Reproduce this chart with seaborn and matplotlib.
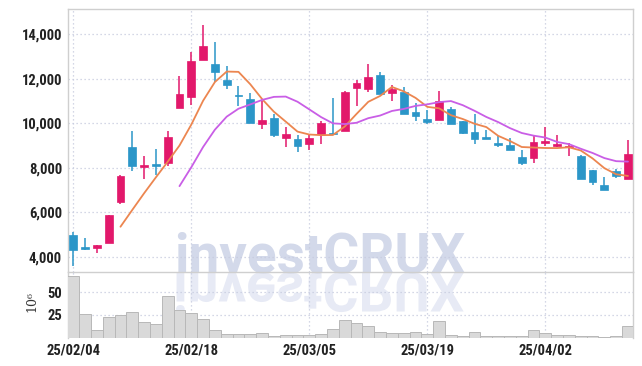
import numpy as np
import pandas as pd
import matplotlib
matplotlib.use("Agg")
import matplotlib.pyplot as plt
import seaborn as sns
from matplotlib import font_manager as fm
from matplotlib.textpath import TextPath
from matplotlib.patches import PathPatch
from matplotlib.transforms import Affine2D
from matplotlib.ticker import FuncFormatter

# ---------------- data ----------------
dates = ["2025-02-04", "2025-02-05", "2025-02-06", "2025-02-07", "2025-02-10",
         "2025-02-11", "2025-02-12", "2025-02-13", "2025-02-14", "2025-02-17",
         "2025-02-18", "2025-02-19", "2025-02-20", "2025-02-21", "2025-02-24",
         "2025-02-25", "2025-02-26", "2025-02-27", "2025-02-28", "2025-03-04",
         "2025-03-05", "2025-03-06", "2025-03-07", "2025-03-10", "2025-03-11",
         "2025-03-12", "2025-03-13", "2025-03-14", "2025-03-17", "2025-03-18",
         "2025-03-19", "2025-03-20", "2025-03-21", "2025-03-24", "2025-03-25",
         "2025-03-26", "2025-03-27", "2025-03-28", "2025-03-31", "2025-04-01",
         "2025-04-02", "2025-04-03", "2025-04-04", "2025-04-07", "2025-04-08",
         "2025-04-09", "2025-04-10", "2025-04-11"]
opens = [4975, 4400, 4375, 4630, 6445, 8935, 8080, 8140, 8230, 10700,
         11195, 12845, 12665, 11946, 11260, 11091, 9982, 10237, 9352, 9292,
         9082, 9517, 9577, 9667, 11601, 11556, 12171, 11347, 11407, 10507,
         10192, 10162, 10642, 10117, 9607, 9382, 9127, 9037, 8498, 8423,
         9112, 8995, 8918, 8528, 7898, 7223, 7838, 7493]
highs = [5125, 4825, 4540, 5890, 7660, 9640, 8530, 8830, 9640, 12110,
         13220, 14405, 13640, 12590, 11690, 11347, 11017, 10402, 9847, 9457,
         9470, 10117, 11122, 11452, 11946, 12665, 12291, 11721, 11646, 10927,
         10597, 11452, 10717, 10117, 10402, 9697, 9427, 9322, 8783, 9487,
         9847, 9457, 9127, 8558, 7898, 7568, 7958, 9232]
lows = [3595, 4300, 4150, 4600, 6370, 7840, 7480, 7675, 8095, 10670,
        10805, 12845, 11870, 11527, 10777, 10000, 9727, 9397, 8918, 8708,
        8783, 9067, 9472, 9667, 10777, 11422, 11331, 11002, 10432, 10117,
        9952, 10162, 9982, 9502, 9067, 9307, 8918, 8813, 8138, 8198,
        8978, 8948, 8528, 7508, 7208, 7013, 7523, 7493]
closes = [4315, 4370, 4525, 5875, 7645, 8095, 8110, 8110, 9380, 11300,
          12800, 13475, 12320, 11736, 11230, 10012, 10147, 9472, 9517, 8978,
          9352, 10012, 9502, 11422, 11811, 12081, 11331, 11526, 10432, 10342,
          10057, 11002, 9982, 9577, 9277, 9307, 9037, 8813, 8228, 9157,
          9202, 9020, 8992, 7508, 7373, 7013, 7643, 8618]
volumes = [67.5, 25.7, 7.9, 22.3, 24.5, 27.9, 16.6, 14.3, 46.0, 30.2,
           26.8, 20.0, 8.7, 4.2, 4.2, 4.2, 5.3, 1.9, 3.0, 3.0,
           3.0, 4.2, 9.1, 18.9, 15.8, 12.1, 5.7, 4.5, 4.5, 5.7,
           3.4, 17.7, 3.0, 1.5, 5.7, 1.9, 1.9, 1.9, 1.9, 7.9,
           4.5, 2.3, 2.3, 1.9, 1.9, 0.8, 1.9, 12.1]
tick_dates = ["2025-02-04", "2025-02-18", "2025-03-05", "2025-03-19", "2025-04-02"]
tick_labels = ["25/02/04", "25/02/18", "25/03/05", "25/03/19", "25/04/02"]
price_ticks = [4000, 6000, 8000, 10000, 12000, 14000]
volume_ticks = [25, 50]
watermark = "investCRUX"

df = pd.DataFrame({"date": dates, "open": opens, "high": highs,
                   "low": lows, "close": closes, "volume": volumes})
df["idx"] = np.arange(len(df))
df["ma5"] = df["close"].rolling(5).mean()
df["ma10"] = df["close"].rolling(10).mean()
tick_pos = [dates.index(d) for d in tick_dates]

# ---------------- style ----------------
sns.set_theme(style="white")


def pick(names):
    for n in names:
        try:
            fm.findfont(fm.FontProperties(family=n), fallback_to_default=False)
            return n
        except Exception:
            pass
    return "DejaVu Sans"


narrow = pick(["Liberation Sans Narrow", "Roboto Condensed", "DejaVu Sans"])
regular = pick(["Liberation Sans", "DejaVu Sans"])
plt.rcParams["font.family"] = [regular, "DejaVu Sans"]

UP = "#e2186b"
DOWN = "#2b96c8"
GRID = "#c6cbdf"
SPINE = "#cfcfcf"

W, H = 642, 366
fig = plt.figure(figsize=(W / 100, H / 100), dpi=100)
fig.patch.set_facecolor("white")
L, R = 68.3 / W, 632.7 / W
ax = fig.add_axes([L, 1 - 272 / H, R - L, (272 - 9) / H])
axv = fig.add_axes([L, 1 - 337.5 / H, R - L, (337.5 - 272) / H], sharex=ax)
for a in (ax, axv):
    a.set_facecolor("none")

# ---------------- watermark ----------------
wm_family = pick(["Roboto", "DejaVu Sans"])
wm_size = 39.5
wm_fp = fm.FontProperties(family=wm_family, weight="bold", size=wm_size)
fig.text(320 / W, 1 - 272.5 / H, watermark, fontproperties=wm_fp,
         color="#d3d9ea", ha="center", va="baseline", zorder=-2)
tp = TextPath((0, 0), watermark, size=wm_size * 100 / 72,
              prop=fm.FontProperties(family=wm_family, weight="bold"))
bb = tp.get_extents()
tx = 320 - (bb.x0 + bb.x1) / 2
refl = PathPatch(tp, facecolor="#e7eaf5", edgecolor="none", zorder=-2,
                 transform=Affine2D().scale(1, -1).translate(tx, H - 272.5))
fig.add_artist(refl)

# ---------------- candles ----------------
up = df["close"] >= df["open"]
colors = np.where(up, UP, DOWN)
ax.vlines(df["idx"], df["low"], df["high"], colors=colors, lw=1.1, zorder=3)
body_lo = np.minimum(df["open"], df["close"]).astype(float)
body_h = (df["close"] - df["open"]).abs().astype(float)
min_h = 80.0
pad = np.clip(min_h - body_h, 0, None) / 2
ax.bar(df["idx"], np.maximum(body_h, min_h), bottom=body_lo - pad,
       width=0.66, color=colors, edgecolor=colors, lw=0.5, zorder=4)

sns.lineplot(data=df, x="idx", y="ma5", ax=ax, color="#ec8650", lw=1.3,
             zorder=5, legend=False)
sns.lineplot(data=df, x="idx", y="ma10", ax=ax, color="#c95ee6", lw=1.3,
             zorder=5, legend=False)

# ---------------- volume ----------------
axv.bar(df["idx"], df["volume"], width=1.0, color="#d9d9d9",
        edgecolor="#b8b8b8", lw=0.7, zorder=3)

# ---------------- axes ----------------
ax.set_xlim(-0.42, 47.4)
ax.set_ylim(3310, 15140)
axv.set_ylim(0, 72)

ax.set_yticks(price_ticks)
ax.yaxis.set_major_formatter(FuncFormatter(lambda v, p: f"{int(v):,}"))
axv.set_yticks(volume_ticks)
axv.set_xticks(tick_pos)
axv.set_xticklabels(tick_labels)
ax.tick_params(axis="x", labelbottom=False, length=0)
ax.set_xlabel("")
ax.set_ylabel("")
axv.set_xlabel("")
axv.set_ylabel("")

for a in (ax, axv):
    a.grid(True, color=GRID, ls=(0, (1, 2.2)), lw=0.9, zorder=0)
    a.set_axisbelow(True)
    a.tick_params(axis="both", length=0, labelcolor="#222222")
    for s in a.spines.values():
        s.set_color(SPINE)
        s.set_linewidth(1.0)

for lab in ax.get_yticklabels() + axv.get_yticklabels():
    lab.set_fontfamily([narrow, "DejaVu Sans"])
    lab.set_fontsize(10.5)
    lab.set_fontweight("bold")
ax.tick_params(axis="y", pad=4.5)
axv.tick_params(axis="y", pad=4.5)
for lab in axv.get_xticklabels():
    lab.set_fontfamily([narrow, "DejaVu Sans"])
    lab.set_fontsize(10.5)
    lab.set_fontweight("bold")
axv.tick_params(axis="x", pad=4)
axv.spines["top"].set_visible(False)
axv.spines["bottom"].set_visible(False)

fig.text(32 / W, 1 - 302 / H, "10⁶", rotation=90, ha="center", va="center",
         fontsize=9, color="#333333", fontfamily=["DejaVu Serif"])

fig.savefig("out.png", dpi=100, facecolor="white")
